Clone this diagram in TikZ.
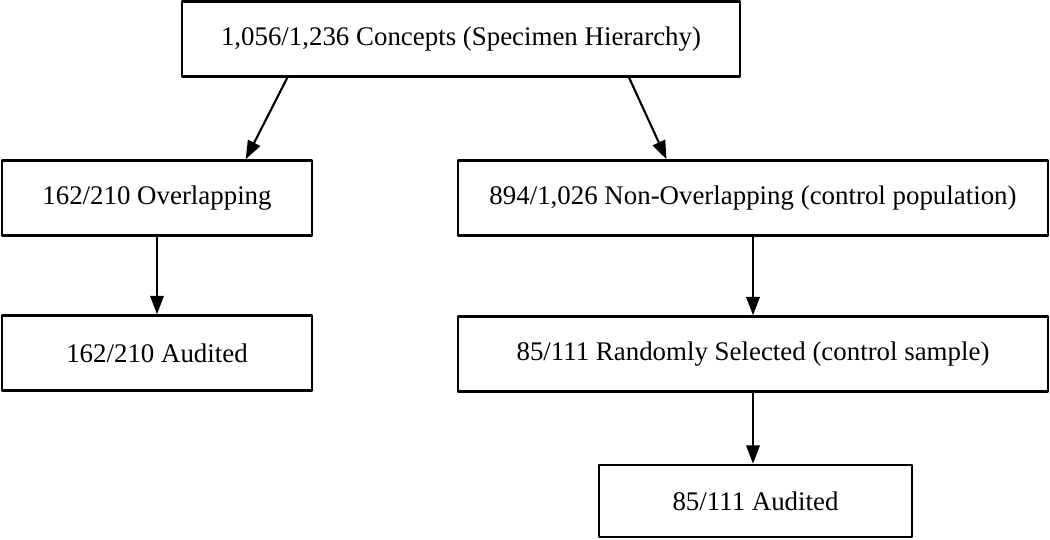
\documentclass[tikz,border=0pt]{standalone}
\usepackage{fontspec}
\setmainfont{Liberation Serif}
\usetikzlibrary{arrows.meta, calc}

\begin{document}
\begin{tikzpicture}[x=0.02cm, y=-0.02cm, >={Triangle[length=3.7mm, width=2.7mm]}, line cap=round, line join=round,
	font=\fontsize{15.3}{18}\selectfont,
	stagebox/.style={draw, line width=1.4pt, inner sep=0pt, minimum height=1.5cm},
	flow/.style={->, line width=1.2pt}]
	
	\useasboundingbox (0,0) rectangle (1050,540);
	
	% ===== boxes =====
	\node[stagebox, minimum width=11.16cm] (all) at (461,39) {1,056/1,236 Concepts (Specimen Hierarchy)};
	
	% left branch
	\node[stagebox, minimum width=6.2cm] (ovl) at (157,198) {162/210 Overlapping};
	\node[stagebox, minimum width=6.2cm] (ovlaud) at (157,353) {162/210 Audited};
	
	% right branch (control)
	\node[stagebox, minimum width=11.8cm] (nonovl) at (753,198) {894/1,026 Non-Overlapping (control population)};
	\node[stagebox, minimum width=11.8cm] (rnd) at (753,354) {85/111 Randomly Selected (control sample)};
	\node[stagebox, minimum width=6.26cm, minimum height=1.44cm] (rndaud) at (755.5,501) {85/111 Audited};
	
	% ===== arrows =====
	\draw[flow] ($(all.south west)!0.19!(all.south east)$) -- ($(ovl.north west)!0.784!(ovl.north east)$);
	\draw[flow] ($(all.south west)!0.80!(all.south east)$) -- ($(nonovl.north west)!0.354!(nonovl.north east)$);
	\draw[flow] (ovl) -- (ovlaud);
	\draw[flow] (nonovl) -- (rnd);
	\draw[flow] (rnd.south) -- (rnd.south |- rndaud.north);
	
\end{tikzpicture}
\end{document}
